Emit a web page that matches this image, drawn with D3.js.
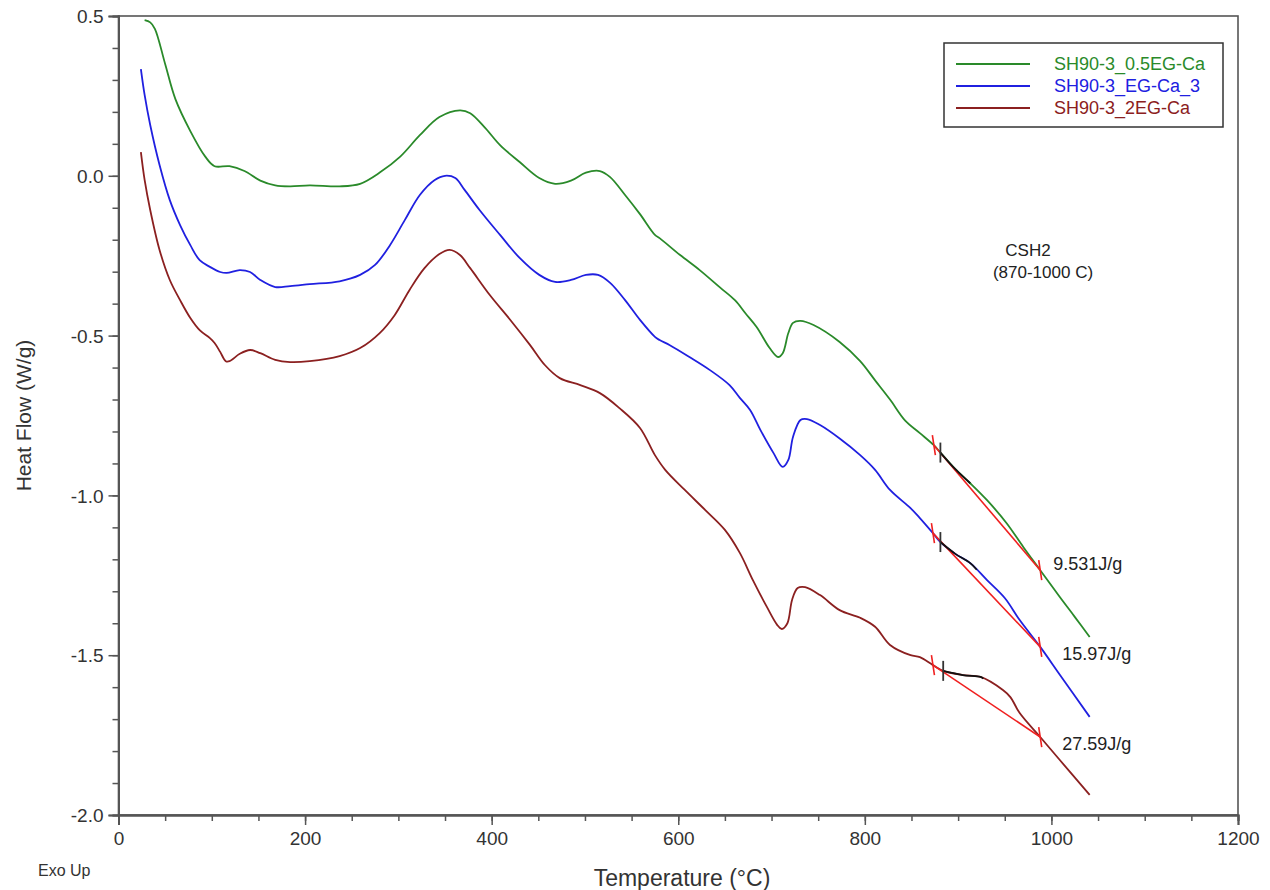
<!DOCTYPE html>
<html><head><meta charset="utf-8">
<script src="https://cdn.jsdelivr.net/npm/d3@7"></script>
<style>body{margin:0;background:#fff}svg{display:block;font-family:"Liberation Sans",Arial,sans-serif}</style>
</head><body><svg id="c" width="1270" height="890"></svg>
<script>
const seriesNames = ["SH90-3_0.5EG-Ca", "SH90-3_EG-Ca_3", "SH90-3_2EG-Ca"];
const seriesColors = ["#2a8a2a", "#2020e0", "#8b2020"];

const tempGreen = [28,34,39,50,61,77,93,103,119,135,152,168,184,205,237,259,280,302,323,344,366,377,393,409,430,451,468,485,501,516,527,543,559,575,580,602,623,645,661,672,684,698,707,712,718,723,731,745,773,795,811,827,843,859,874,881,897,913,931,952,970,988,1009,1025,1041];
const hfGreen = [0.487,0.48,0.46,0.35,0.24,0.14,0.06,0.03,0.03,0.015,-0.015,-0.03,-0.033,-0.03,-0.033,-0.025,0.01,0.06,0.127,0.184,0.205,0.196,0.15,0.096,0.043,-0.007,-0.025,-0.015,0.01,0.015,-0.004,-0.06,-0.12,-0.185,-0.195,-0.248,-0.295,-0.35,-0.39,-0.43,-0.473,-0.539,-0.567,-0.555,-0.492,-0.46,-0.454,-0.467,-0.52,-0.58,-0.64,-0.70,-0.765,-0.805,-0.843,-0.866,-0.918,-0.962,-1.015,-1.087,-1.162,-1.234,-1.318,-1.38,-1.443];

const tempBlue = [24,28,34,44,55,66,77,87,98,109,116,130,141,152,168,184,205,237,259,275,291,307,323,339,350,361,371,387,409,430,451,468,485,501,514,527,543,559,575,580,591,612,634,655,666,677,688,702,712,718,723,731,738,752,773,795,811,827,849,859,873,881,897,913,931,950,966,988,1009,1041];
const hfBlue = [0.334,0.253,0.159,0.034,-0.076,-0.154,-0.217,-0.264,-0.285,-0.301,-0.304,-0.295,-0.301,-0.326,-0.348,-0.345,-0.339,-0.33,-0.31,-0.279,-0.217,-0.138,-0.06,-0.013,0.0,-0.007,-0.044,-0.107,-0.185,-0.257,-0.31,-0.332,-0.326,-0.31,-0.31,-0.335,-0.389,-0.451,-0.504,-0.514,-0.53,-0.567,-0.608,-0.655,-0.695,-0.733,-0.795,-0.867,-0.911,-0.889,-0.817,-0.764,-0.761,-0.78,-0.822,-0.874,-0.92,-0.983,-1.04,-1.071,-1.118,-1.146,-1.183,-1.212,-1.265,-1.321,-1.39,-1.474,-1.561,-1.693];

const tempBrown = [24,28,34,44,55,66,77,87,98,103,109,115,119,130,141,152,168,184,205,237,259,280,296,312,328,344,355,366,377,398,420,441,457,473,495,516,537,559,575,586,607,629,650,666,680,695,706,711,717,722,728,736,752,773,795,811,827,849,859,873,884,905,924,948,956,966,988,1009,1041];
const hfBrown = [0.074,-0.013,-0.107,-0.232,-0.326,-0.389,-0.445,-0.483,-0.508,-0.523,-0.551,-0.58,-0.58,-0.557,-0.545,-0.555,-0.576,-0.583,-0.58,-0.564,-0.539,-0.492,-0.436,-0.357,-0.289,-0.245,-0.232,-0.248,-0.289,-0.373,-0.451,-0.529,-0.592,-0.633,-0.655,-0.68,-0.727,-0.789,-0.874,-0.92,-0.983,-1.046,-1.108,-1.18,-1.265,-1.349,-1.405,-1.418,-1.4,-1.327,-1.29,-1.287,-1.312,-1.359,-1.383,-1.411,-1.468,-1.5,-1.506,-1.531,-1.549,-1.562,-1.568,-1.609,-1.631,-1.681,-1.756,-1.828,-1.937];

// peak integration (baseline limits, analysed window, enthalpy labels)
const baseStartT = [874, 873, 873];
const baseStartHF = [-0.843, -1.118, -1.531];
const baseEndT = [988, 988, 988];
const baseEndHF = [-1.234, -1.474, -1.756];
const markT = [881, 881, 884];
const overlayEndT = [913, 920, 927];
const enthalpyLabels = ["9.531J/g", "15.97J/g", "27.59J/g"];

const xTicks = [0, 200, 400, 600, 800, 1000, 1200];
const yTicks = [-2.0, -1.5, -1.0, -0.5, 0.0, 0.5];

const svg = d3.select("#c");
const x = d3.scaleLinear().domain([0, 1200]).range([118.5, 1238]);
const y = d3.scaleLinear().domain([-2, 0.5]).range([815, 16]);
const axisColor = "#555";
const textColor = "#333";

// frame
svg.append("rect").attr("x", x(0)).attr("y", y(0.5)).attr("width", x(1200) - x(0)).attr("height", y(-2) - y(0.5))
  .attr("fill", "none").attr("stroke", axisColor).attr("stroke-width", 1.6);

const fmtY = d => d3.format(".1f")(d).replace("\u2212", "-");
const gx = svg.append("g").attr("transform", `translate(0,${y(-2)})`);
gx.call(d3.axisBottom(x).tickValues(d3.range(0, 1201, 50)).tickSize(6).tickFormat(""));
const gxM = svg.append("g").attr("transform", `translate(0,${y(-2)})`);
gxM.call(d3.axisBottom(x).tickValues(xTicks).tickSize(10).tickPadding(4).tickFormat(d3.format("d")));
const gy = svg.append("g").attr("transform", `translate(${x(0)},0)`);
gy.call(d3.axisLeft(y).tickValues(d3.range(-20, 6, 1).map(d => d / 10)).tickSize(6).tickFormat(""));
const gyM = svg.append("g").attr("transform", `translate(${x(0)},0)`);
gyM.call(d3.axisLeft(y).tickValues(yTicks).tickSize(10).tickPadding(5).tickFormat(fmtY));
[gx, gxM, gy, gyM].forEach(g => {
  g.selectAll("path.domain").attr("stroke", axisColor).attr("stroke-width", 2);
  g.selectAll(".tick line").attr("stroke", axisColor).attr("stroke-width", 1.5);
  g.selectAll(".tick text").attr("fill", textColor).style("font-size", "19px").style("font-family", "'Liberation Sans',Arial,sans-serif");
});
gyM.selectAll(".tick text").attr("dy", "0.35em");
gxM.selectAll(".tick text").attr("dy", "0.85em");

// titles
svg.append("text").attr("x", 682).attr("y", 886).attr("text-anchor", "middle").attr("fill", textColor)
  .style("font-size", "23px").text("Temperature (°C)");
svg.append("text").attr("transform", `translate(31,${(y(0.5) + y(-2)) / 2}) rotate(-90)`).attr("text-anchor", "middle")
  .attr("fill", textColor).style("font-size", "21px").text("Heat Flow (W/g)");
svg.append("text").attr("x", 38).attr("y", 876).attr("fill", textColor).style("font-size", "16px").text("Exo Up");

// curves
const series = [
  tempGreen.map((t, i) => [t, hfGreen[i]]),
  tempBlue.map((t, i) => [t, hfBlue[i]]),
  tempBrown.map((t, i) => [t, hfBrown[i]])
];
const line = d3.line().x(d => x(d[0])).y(d => y(d[1])).curve(d3.curveCatmullRom.alpha(0.5));
series.forEach((s, i) => {
  svg.append("path").datum(s).attr("d", line).attr("fill", "none").attr("stroke", seriesColors[i]).attr("stroke-width", 1.8);
});

function interp(s, t) {
  for (let i = 1; i < s.length; i++) {
    if (s[i][0] >= t) {
      const a = s[i - 1], b = s[i];
      return a[1] + (b[1] - a[1]) * (t - a[0]) / (b[0] - a[0]);
    }
  }
  return s[s.length - 1][1];
}

// integration overlays
series.forEach((s, i) => {
  svg.append("line").attr("x1", x(baseStartT[i])).attr("y1", y(baseStartHF[i]))
    .attr("x2", x(baseEndT[i])).attr("y2", y(baseEndHF[i])).attr("stroke", "#f02020").attr("stroke-width", 1.6);
  const seg = [[markT[i], interp(s, markT[i])]].concat(s.filter(d => d[0] > markT[i] && d[0] < overlayEndT[i]))
    .concat([[overlayEndT[i], interp(s, overlayEndT[i])]]);
  svg.append("path").datum(seg).attr("d", line).attr("fill", "none").attr("stroke", "#111").attr("stroke-width", 1.8);
  [[baseStartT[i], baseStartHF[i]], [baseEndT[i], baseEndHF[i]]].forEach(p => {
    svg.append("line").attr("x1", x(p[0]) - 1.5).attr("y1", y(p[1]) - 10).attr("x2", x(p[0]) + 1.5).attr("y2", y(p[1]) + 10)
      .attr("stroke", "#f02020").attr("stroke-width", 1.6);
  });
  const mh = interp(s, markT[i]);
  svg.append("line").attr("x1", x(markT[i])).attr("y1", y(mh) - 10).attr("x2", x(markT[i])).attr("y2", y(mh) + 10)
    .attr("stroke", "#333").attr("stroke-width", 1.8);
  svg.append("text").attr("x", x(baseEndT[i]) + (i === 0 ? 13 : 22)).attr("y", y(baseEndHF[i]) + (i === 0 ? 0 : 13))
    .attr("fill", "#222").style("font-size", "18px").text(enthalpyLabels[i]);
});

// annotation
svg.append("text").attr("x", 1028).attr("y", 256).attr("text-anchor", "middle").attr("fill", "#222").style("font-size", "17px").text("CSH2");
svg.append("text").attr("x", 1043).attr("y", 278).attr("text-anchor", "middle").attr("fill", "#222").style("font-size", "17px").text("(870-1000 C)");

// legend
const lg = svg.append("g");
lg.append("rect").attr("x", 944).attr("y", 43).attr("width", 279).attr("height", 84).attr("fill", "#fff").attr("stroke", "#333").attr("stroke-width", 1.5);
seriesNames.forEach((n, i) => {
  const yy = 64 + i * 22;
  lg.append("line").attr("x1", 956).attr("x2", 1030).attr("y1", yy).attr("y2", yy).attr("stroke", seriesColors[i]).attr("stroke-width", 1.8);
  lg.append("text").attr("x", 1054).attr("y", yy + 6).attr("fill", seriesColors[i]).style("font-size", "18px").text(n);
});
</script></body></html>
